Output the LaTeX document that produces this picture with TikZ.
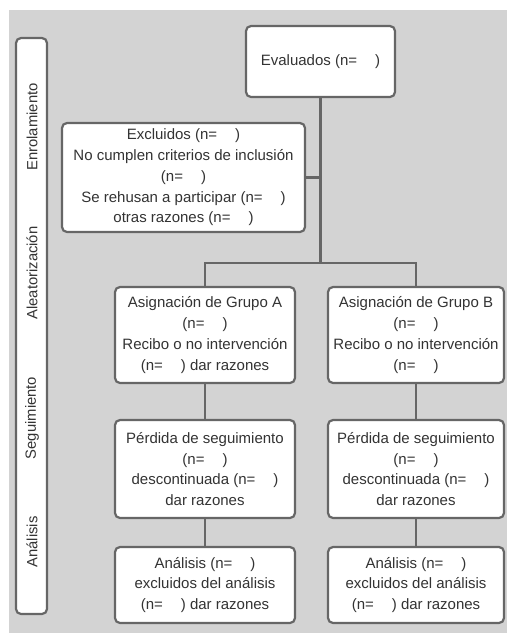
\documentclass[tikz,border=0pt]{standalone}
\usepackage{fontspec}
\setmainfont{Liberation Sans}
\definecolor{bggray}{HTML}{D3D3D3}
\definecolor{edgegray}{HTML}{666666}
\definecolor{txtgray}{HTML}{333333}
\begin{document}
\begin{tikzpicture}[x=1pt,y=-1pt,
  boxnode/.style={draw=edgegray,line width=2.2pt,fill=white,rounded corners=5pt,
    align=center,inner sep=0pt,text=txtgray,
    font=\fontsize{15}{20.7}\selectfont},
  phasetext/.style={rotate=90,text=txtgray,inner sep=0pt,
    font=\fontsize{14.8}{17}\selectfont},
  conn/.style={draw=edgegray,line width=2.2pt}]
\useasboundingbox (0,0) rectangle (507,635);
\fill[bggray] (9,10) rectangle (507,633);
% left phase bar
\node[draw=edgegray,line width=2.2pt,fill=white,rounded corners=5pt,
  minimum width=31pt,minimum height=576pt,inner sep=0pt] (bar) at (31.5,326) {};
\node[phasetext] (enr) at (32,127) {Enrolamiento};
\node[phasetext] (ale) at (32,273) {Aleatorización};
\node[phasetext] (seg) at (32,418) {Seguimiento};
\node[phasetext] (ana) at (32,542) {Análisis};
% boxes
\node[boxnode,minimum width=149pt,minimum height=71pt] (eval) at (320.5,61.5) {Evaluados (n=\hspace{1.2em})};
\node[boxnode,minimum width=243pt,minimum height=109pt] (excl) at (183.5,177.5)
  {Excluidos (n=\hspace{1.2em})\\No cumplen criterios de inclusión\\(n=\hspace{1.2em})\\Se rehusan a participar (n=\hspace{1.2em})\\otras razones (n=\hspace{1.2em})};
\node[boxnode,minimum width=180pt,minimum height=96pt] (ga) at (205,335)
  {Asignación de Grupo A\\(n=\hspace{1.2em})\\Recibo o no intervención\\(n=\hspace{1.2em}) dar razones};
\node[boxnode,minimum width=176pt,minimum height=96pt] (gb) at (416,335)
  {Asignación de Grupo B\\(n=\hspace{1.2em})\\Recibo o no intervención\\(n=\hspace{1.2em})};
\node[boxnode,minimum width=180pt,minimum height=98pt] (pa) at (205,469)
  {Pérdida de seguimiento\\(n=\hspace{1.2em})\\descontinuada (n=\hspace{1.2em})\\dar razones};
\node[boxnode,minimum width=176pt,minimum height=98pt] (pb) at (416,469)
  {Pérdida de seguimiento\\(n=\hspace{1.2em})\\descontinuada (n=\hspace{1.2em})\\dar razones};
\node[boxnode,minimum width=180pt,minimum height=76pt] (aa) at (205,585)
  {Análisis (n=\hspace{1.2em})\\excluidos del análisis\\(n=\hspace{1.2em}) dar razones};
\node[boxnode,minimum width=176pt,minimum height=76pt] (ab) at (416,585)
  {Análisis (n=\hspace{1.2em})\\excluidos del análisis\\(n=\hspace{1.2em}) dar razones};
% connectors
\coordinate (split) at (eval.south |- 0,263);
\draw[conn] (eval.south) -- (split);
\draw[conn] (excl.east) -- (excl.east -| eval.south);
\draw[conn] (ga.north) -- (ga.north |- split) -- (gb.north |- split) -- (gb.north);
\draw[conn] (ga.south) -- (pa.north);
\draw[conn] (gb.south) -- (pb.north);
\draw[conn] (pa.south) -- (aa.north);
\draw[conn] (pb.south) -- (ab.north);
\end{tikzpicture}
\end{document}
